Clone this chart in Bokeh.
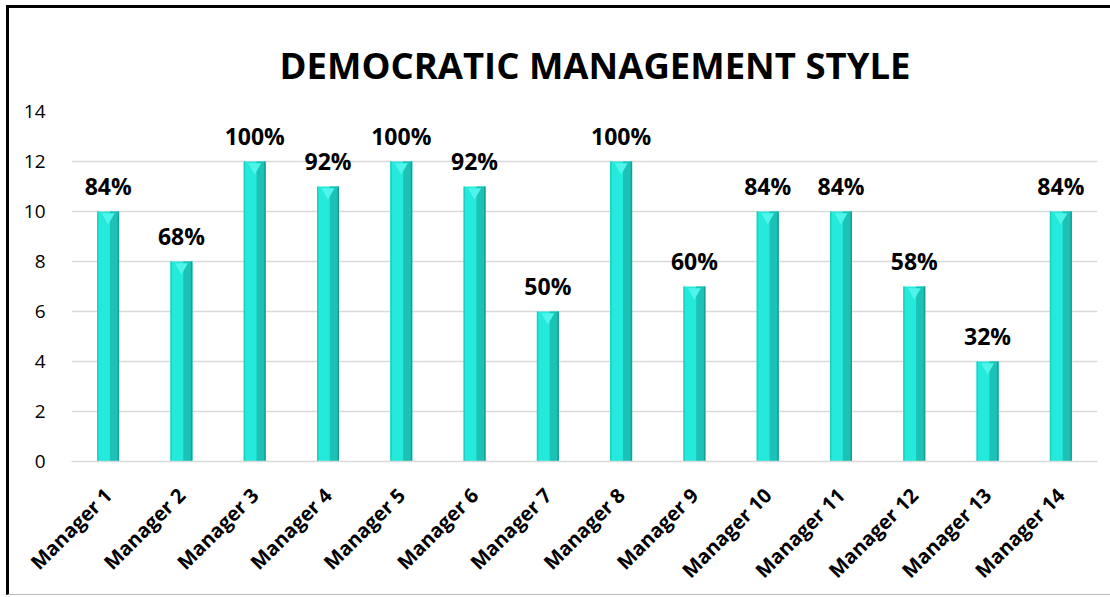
import math
from bokeh.plotting import figure
from bokeh.models import ColumnDataSource, Title
from bokeh.transform import dodge
from bokeh.core.properties import value
from bokeh.embed import file_html
from bokeh.resources import INLINE

managers = ["Manager 1", "Manager 2", "Manager 3", "Manager 4", "Manager 5", "Manager 6", "Manager 7",
            "Manager 8", "Manager 9", "Manager 10", "Manager 11", "Manager 12", "Manager 13", "Manager 14"]
counts = [10, 8, 12, 11, 12, 11, 6, 12, 7, 10, 10, 7, 4, 10]
percent_labels = ["84%", "68%", "100%", "92%", "100%", "92%", "50%", "100%", "60%", "84%", "84%", "58%", "32%", "84%"]
y_ticks = [0, 2, 4, 6, 8, 10, 12, 14]

src = ColumnDataSource(dict(x=managers, y=counts, lab=percent_labels))

p = figure(x_range=managers, y_range=(0, 14), width=1104, height=590,
           output_backend="svg", toolbar_location=None,
           min_border_left=62, min_border_right=16, min_border_top=103, min_border_bottom=137)
p.margin = (5, 0, 0, 6)
p.styles = {"border-top": "3px solid black", "border-left": "3px solid black",
            "border-bottom": "1px solid #bbbbbb", "box-sizing": "border-box"}

t = Title(text="DEMOCRATIC MANAGEMENT STYLE", align="left", text_font="Open Sans",
          text_font_size="36.5px", text_font_style="bold", text_color="black",
          standoff=44, offset=208)
p.add_layout(t, "above")

p.outline_line_color = None
p.background_fill_color = "white"
p.border_fill_color = "white"
p.xgrid.grid_line_color = None
p.ygrid.grid_line_color = "#d9d9d9"
p.ygrid.grid_line_width = 1.5

p.yaxis.ticker = y_ticks
p.yaxis.axis_line_color = None
p.yaxis.major_tick_line_color = None
p.yaxis.minor_tick_line_color = None
p.yaxis.major_label_text_font = "Open Sans"
p.yaxis.major_label_text_font_size = "19px"
p.yaxis.major_label_text_color = "black"
p.yaxis.major_label_standoff = 20

p.xaxis.axis_line_color = "#d9d9d9"
p.xaxis.axis_line_width = 1.5
p.xaxis.major_tick_line_color = None
p.xaxis.major_label_orientation = math.pi / 4
p.xaxis.major_label_text_font = "Open Sans"
p.xaxis.major_label_text_font_style = "bold"
p.xaxis.major_label_text_font_size = "20px"
p.xaxis.major_label_text_color = "black"
p.xaxis.major_label_standoff = 24
p.x_range.range_padding = 0

# bevelled bar look
p.vbar(x="x", top="y", width=0.3, source=src, fill_color="#24EADB", line_color=None)
p.vbar(x=dodge("x", 0.085, range=p.x_range), top="y", width=0.12, source=src,
       fill_color="#1BC2B5", line_color=None)
p.vbar(x=dodge("x", -0.14, range=p.x_range), top="y", width=0.02, source=src,
       fill_color="#1DCFC1", line_color=None)
p.vbar(x=dodge("x", 0.14, range=p.x_range), top="y", width=0.02, source=src,
       fill_color="#169F94", line_color=None)
p.scatter(x="x", y=dodge("y", -0.22), source=src, marker="inverted_triangle", size=13,
          fill_color="#4FF5EA", line_color=None)

p.text(x="x", y="y", text="lab", source=src, text_align="center", text_baseline="bottom",
       y_offset=-10, text_font=value("Open Sans"), text_font_style="bold",
       text_font_size="23px", text_color="black")

open("out.html", "w").write(file_html(p, INLINE))
